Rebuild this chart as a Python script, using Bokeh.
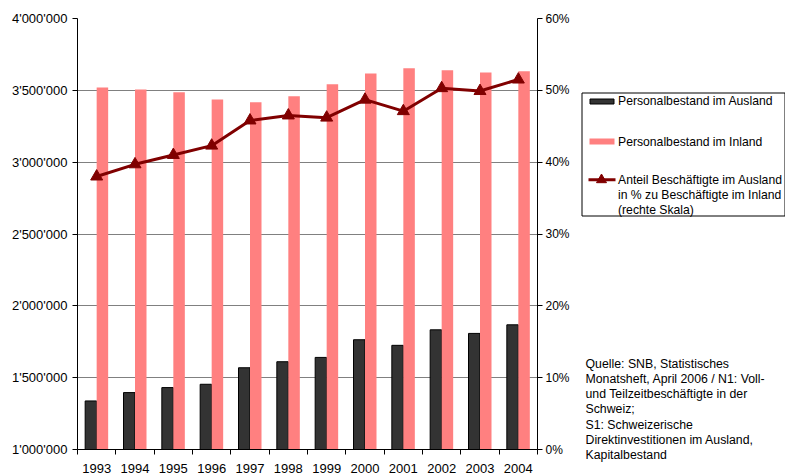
from bokeh.plotting import figure
from bokeh.layouts import row
from bokeh.models import Range1d, LinearAxis, FixedTicker, ColumnDataSource
from bokeh.core.properties import value
from bokeh.transform import dodge
from bokeh.embed import file_html
from bokeh.resources import INLINE

years = ["1993", "1994", "1995", "1996", "1997", "1998", "1999", "2000", "2001", "2002", "2003", "2004"]
ausland = [1338000, 1396000, 1431000, 1454000, 1569000, 1611000, 1641000, 1764000, 1725000, 1833000, 1808000, 1868000]
inland = [3519000, 3505000, 3486000, 3437000, 3417000, 3458000, 3542000, 3618000, 3653000, 3639000, 3625000, 3632000]
anteil = [38.0, 39.7, 41.0, 42.3, 45.8, 46.5, 46.2, 48.7, 47.1, 50.3, 49.9, 51.5]

left_ticks = [1000000, 1500000, 2000000, 2500000, 3000000, 3500000, 4000000]
left_labels = ["1'000'000", "1'500'000", "2'000'000", "2'500'000", "3'000'000", "3'500'000", "4'000'000"]
right_ticks = [0, 10, 20, 30, 40, 50, 60]
right_labels = ["0%", "10%", "20%", "30%", "40%", "50%", "60%"]

legend_labels = ["Personalbestand im Ausland", "Personalbestand im Inland",
                 "Anteil Beschäftigte im Ausland", "in % zu Beschäftigte im Inland", "(rechte Skala)"]
source_lines = ["Quelle: SNB, Statistisches", "Monatsheft, April 2006 / N1: Voll-",
                "und Teilzeitbeschäftigte in der", "Schweiz;", "S1: Schweizerische",
                "Direktinvestitionen im Ausland,", "Kapitalbestand"]

FONT = "Liberation Sans"
DARK = "#333333"
PINK = "#FF8080"
RED = "#800000"

n = len(years)
xpos = [i + 0.5 for i in range(n)]
src = ColumnDataSource(dict(x=xpos, ausland=ausland, inland=inland, anteil=anteil))

W_MAIN = 578
p = figure(width=W_MAIN, height=475, x_range=Range1d(0, n),
           y_range=Range1d(left_ticks[0], left_ticks[-1]),
           output_backend="svg", toolbar_location=None,
           min_border_left=77, min_border_right=W_MAIN - 537, min_border_top=18, min_border_bottom=25)
p.outline_line_color = None
p.frame_align = False
p.extra_y_ranges = {"pct": Range1d(right_ticks[0], right_ticks[-1])}

# bars
p.vbar(x=dodge("x", -0.15, range=p.x_range), top="ausland", bottom=left_ticks[0], width=0.3,
       source=src, fill_color=DARK, line_color="black", line_width=1)
p.vbar(x=dodge("x", 0.15, range=p.x_range), top="inland", bottom=left_ticks[0], width=0.3,
       source=src, fill_color=PINK, line_color=None)
# share line (right scale)
p.line(x="x", y="anteil", source=src, y_range_name="pct", line_color=RED, line_width=3)
p.scatter(x="x", y="anteil", source=src, y_range_name="pct", marker="triangle", size=12,
          fill_color=RED, line_color=RED)

# grid
p.xgrid.visible = False
p.ygrid.ticker = FixedTicker(ticks=left_ticks)
p.ygrid.grid_line_color = "#808080"
p.ygrid.grid_line_width = 1

# x axis
xa = p.xaxis[0]
xa.ticker = FixedTicker(ticks=xpos, minor_ticks=list(range(n + 1)))
xa.major_label_overrides = {x: y for x, y in zip(xpos, years)}
xa.major_tick_out = 0
xa.major_tick_in = 0
xa.minor_tick_out = 5
xa.minor_tick_in = 0
xa.minor_tick_line_color = "black"
xa.axis_line_color = "black"
xa.major_label_standoff = 9
xa.major_label_text_font = FONT
xa.major_label_text_font_size = "13px"
xa.major_label_text_color = "black"

# left axis
ya = p.yaxis[0]
ya.ticker = FixedTicker(ticks=left_ticks)
ya.major_label_overrides = {t: l for t, l in zip(left_ticks, left_labels)}
ya.major_tick_out = 5
ya.major_tick_in = 0
ya.minor_tick_out = 0
ya.minor_tick_in = 0
ya.axis_line_color = "black"
ya.major_tick_line_color = "black"
ya.major_label_standoff = 5
ya.major_label_text_font = FONT
ya.major_label_text_font_size = "13px"
ya.major_label_text_color = "black"

# right axis
ra = LinearAxis(y_range_name="pct", ticker=FixedTicker(ticks=right_ticks))
ra.major_label_overrides = {t: l for t, l in zip(right_ticks, right_labels)}
ra.major_tick_out = 5
ra.major_tick_in = 0
ra.minor_tick_out = 0
ra.minor_tick_in = 0
ra.axis_line_color = "black"
ra.major_tick_line_color = "black"
ra.major_label_standoff = 3
ra.major_label_text_font = FONT
ra.major_label_text_font_size = "12px"
ra.major_label_text_color = "black"
p.add_layout(ra, "right")

# side panel: legend + source note (pixel coordinates of the page)
X0 = W_MAIN
q = figure(width=785 - W_MAIN, height=475, x_range=Range1d(X0, 785), y_range=Range1d(475, 0),
           output_backend="svg", toolbar_location=None, x_axis_location=None, y_axis_location=None,
           min_border_left=0, min_border_right=0, min_border_top=0, min_border_bottom=0)
q.outline_line_color = None
q.frame_align = False
q.xgrid.visible = False
q.ygrid.visible = False

# legend frame
q.quad(left=[581.5], right=[784.5], top=[92.5], bottom=[215.5], fill_color=None,
       line_color="black", line_width=1)
# swatches
q.quad(left=[589.5], right=[613.5], top=[98.5], bottom=[103.5], fill_color=DARK,
       line_color="black", line_width=1)
q.quad(left=[589], right=[614], top=[138], bottom=[144], fill_color=PINK, line_color=None)
q.segment(x0=[588], y0=[179.3], x1=[615], y1=[179.3], line_color=RED, line_width=3)
q.scatter(x=[601], y=[179.3], marker="triangle", size=10, fill_color=RED, line_color=RED)

leg_y = [100.5, 141, 179.5, 194.5, 209.5]
q.text(x=[617.5] * len(legend_labels), y=leg_y, text=legend_labels, text_font=value(FONT),
       text_font_size="12.2px", text_color="black", text_baseline="middle", text_align="left")

src_y = [363, 378.3, 393.6, 408.9, 424.2, 439.5, 454.8]
q.text(x=[585] * len(source_lines), y=src_y, text=source_lines, text_font=value(FONT),
       text_font_size="12.3px", text_color="black", text_baseline="middle", text_align="left")

layout = row(p, q, spacing=0)
open("out.html", "w").write(file_html(layout, INLINE))
